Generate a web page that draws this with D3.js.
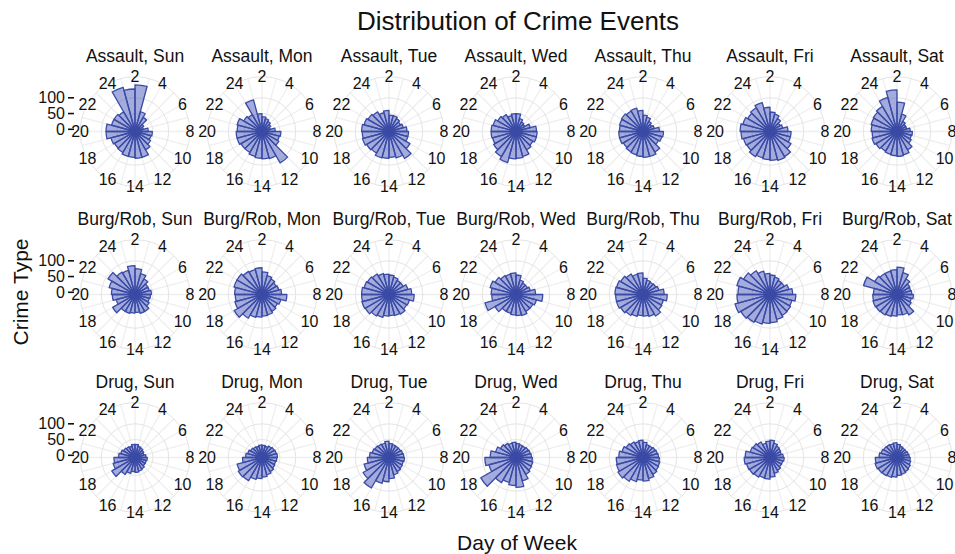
<!DOCTYPE html>
<html>
<head>
<meta charset="utf-8">
<script src="https://cdn.jsdelivr.net/npm/d3@7"></script>
<style>
  body { margin: 0; background: #fff; }
  svg { display: block; }
  text { font-family: "Liberation Sans", Arial, Helvetica, sans-serif; fill: #111; }
</style>
</head>
<body>
<svg id="chart" width="955" height="554"></svg>
<script>
// Crime counts by hour bin (0..23), one row of 24 per day of week.
const days = ["Sun", "Mon", "Tue", "Wed", "Thu", "Fri", "Sat"];
const crimeTypes = ["Assault", "Burg/Rob", "Drug"];
const hours = [0, 1, 2, 3, 4, 5, 6, 7, 8, 9, 10, 11, 12, 13, 14, 15, 16, 17, 18, 19, 20, 21, 22, 23];
const hourTicks = [2, 4, 6, 8, 10, 12, 14, 16, 18, 20, 22, 24];
const countTicks = [0, 50, 100];

const assault = [
  [138, 128, 141, 58, 45, 25, 20, 35, 48, 45, 50, 60, 78, 78, 75, 75, 70, 68, 72, 85, 85, 70, 70, 65],
  [97, 50, 40, 35, 30, 25, 20, 35, 53, 50, 55, 108, 82, 80, 78, 75, 70, 70, 75, 75, 72, 75, 60, 55],
  [55, 60, 45, 45, 40, 35, 40, 50, 55, 55, 70, 92, 80, 75, 78, 80, 72, 75, 80, 78, 80, 75, 70, 65],
  [45, 50, 50, 35, 28, 25, 40, 58, 60, 60, 55, 60, 75, 78, 80, 95, 85, 75, 70, 72, 72, 68, 60, 55],
  [70, 60, 45, 40, 30, 25, 30, 45, 58, 55, 50, 68, 75, 75, 72, 70, 68, 65, 70, 70, 68, 70, 72, 68],
  [88, 70, 55, 50, 40, 30, 35, 50, 60, 60, 70, 85, 88, 85, 82, 80, 85, 78, 80, 85, 88, 82, 75, 80],
  [105, 125, 86, 50, 30, 25, 25, 35, 42, 40, 45, 60, 70, 72, 70, 68, 65, 70, 75, 72, 75, 78, 80, 85]
];
const burgRob = [
  [72, 85, 75, 62, 50, 40, 40, 45, 42, 40, 45, 55, 55, 50, 52, 55, 55, 75, 55, 65, 68, 78, 92, 75],
  [75, 78, 65, 55, 50, 45, 48, 55, 72, 55, 50, 55, 60, 62, 65, 68, 80, 95, 82, 78, 80, 85, 85, 78],
  [62, 58, 55, 50, 45, 45, 55, 65, 73, 60, 58, 65, 62, 60, 62, 68, 72, 80, 82, 80, 80, 75, 72, 68],
  [60, 62, 55, 40, 35, 35, 40, 55, 78, 60, 55, 55, 62, 60, 58, 55, 55, 70, 95, 70, 72, 78, 70, 62],
  [60, 62, 45, 40, 38, 40, 45, 60, 70, 60, 62, 72, 65, 62, 60, 65, 70, 75, 80, 80, 82, 80, 75, 68],
  [70, 60, 55, 50, 45, 45, 55, 65, 75, 65, 68, 70, 75, 82, 85, 90, 95, 100, 108, 98, 95, 102, 90, 80],
  [70, 72, 80, 65, 50, 40, 38, 40, 45, 40, 45, 68, 60, 58, 62, 65, 68, 70, 72, 70, 68, 103, 75, 70]
];
const drug = [
  [30, 35, 35, 30, 28, 25, 22, 28, 32, 30, 30, 35, 38, 40, 38, 45, 55, 78, 65, 60, 45, 40, 35, 32],
  [30, 33, 32, 30, 35, 38, 40, 42, 40, 38, 40, 45, 50, 55, 60, 65, 78, 80, 75, 55, 45, 40, 35, 32],
  [40, 45, 38, 35, 35, 35, 38, 40, 42, 40, 42, 45, 50, 60, 70, 78, 105, 88, 75, 62, 55, 48, 45, 42],
  [40, 42, 38, 35, 35, 38, 40, 42, 45, 48, 50, 55, 70, 88, 82, 75, 85, 122, 82, 92, 75, 60, 50, 45],
  [45, 48, 42, 35, 35, 38, 40, 42, 45, 48, 50, 55, 62, 68, 65, 72, 80, 85, 80, 78, 70, 62, 55, 50],
  [40, 45, 48, 40, 35, 32, 30, 35, 38, 35, 35, 40, 45, 55, 62, 60, 65, 68, 70, 75, 72, 58, 55, 50],
  [38, 40, 35, 30, 28, 28, 30, 32, 35, 38, 42, 45, 48, 50, 55, 58, 60, 62, 65, 62, 50, 45, 42, 40]
];
const seriesByType = { "Assault": assault, "Burg/Rob": burgRob, "Drug": drug };

const svg = d3.select("#chart");

// facet grid: one square polar panel per (crime type, day)
const panelSize = 122;
const col = d3.scaleBand().domain(days).range([71.5, 960.5]);
const row = d3.scaleBand().domain(crimeTypes).range([50, 539]);

// polar scales: hour -> angle (hour 2 at twelve o'clock), count -> radius
const theta = d3.scaleLinear().domain([2, 26]).range([0, 2 * Math.PI]);
const r = d3.scaleLinear().domain([-7, 148]).range([0, 0.4 * panelSize]);
const rOuter = 0.45 * panelSize;

const arc = d3.arc()
  .innerRadius(0)
  .outerRadius(d => r(d.value))
  .startAngle(d => theta(d.hour))
  .endAngle(d => theta(d.hour + 1));

const gridHours = d3.range(2, 26);

crimeTypes.forEach(type => {
  days.forEach((day, di) => {
    const cx = col(day) + col.bandwidth() / 2;
    const cy = row(type) + row.bandwidth() / 2;
    const g = svg.append("g").attr("transform", `translate(${cx},${cy})`);

    // spokes
    g.selectAll("line.spoke").data(gridHours).join("line")
      .attr("class", "spoke")
      .attr("x1", 0).attr("y1", 0)
      .attr("x2", h => Math.sin(theta(h)) * rOuter)
      .attr("y2", h => -Math.cos(theta(h)) * rOuter)
      .attr("stroke", "#efefef").attr("stroke-width", 1.3);

    // radial grid circles
    g.selectAll("circle.ring").data(countTicks.map(v => r(v)).concat([rOuter])).join("circle")
      .attr("class", "ring")
      .attr("r", d => d)
      .attr("fill", "none")
      .attr("stroke", "#e4e4e4").attr("stroke-width", 1);

    // bars
    const vals = seriesByType[type][di];
    g.selectAll("path.bar").data(hours.map((h, i) => ({ hour: h, value: vals[i] }))).join("path")
      .attr("class", "bar")
      .attr("d", arc)
      .attr("fill", "rgba(63,81,181,0.48)")
      .attr("stroke", "#3b4ba5").attr("stroke-width", 1.3)
      .attr("stroke-linejoin", "round");

    // hour labels around the rim
    g.selectAll("text.hour").data(hourTicks).join("text")
      .attr("class", "hour")
      .attr("x", h => Math.sin(theta(h)) * rOuter)
      .attr("y", h => -Math.cos(theta(h)) * rOuter)
      .attr("text-anchor", "middle")
      .attr("dominant-baseline", "central")
      .attr("font-size", 16)
      .text(h => h);

    // strip label
    svg.append("text")
      .attr("x", cx).attr("y", cy - 75.5)
      .attr("text-anchor", "middle")
      .attr("dominant-baseline", "central")
      .attr("font-size", 17.5)
      .text(`${type}, ${day}`);

    // radial count axis on the first column
    if (di === 0) {
      const left = -panelSize / 2;
      g.selectAll("line.rtick").data(countTicks).join("line")
        .attr("class", "rtick")
        .attr("x1", left - 6).attr("x2", left)
        .attr("y1", v => -r(v)).attr("y2", v => -r(v))
        .attr("stroke", "#111").attr("stroke-width", 1.6);
      g.selectAll("text.rlab").data(countTicks).join("text")
        .attr("class", "rlab")
        .attr("x", left - 9)
        .attr("y", v => -r(v))
        .attr("text-anchor", "end")
        .attr("dominant-baseline", "central")
        .attr("font-size", 16)
        .text(v => v);
    }
  });
});

// titles
svg.append("text")
  .attr("x", 518).attr("y", 21)
  .attr("text-anchor", "middle").attr("dominant-baseline", "central")
  .attr("font-size", 26)
  .text("Distribution of Crime Events");

svg.append("text")
  .attr("transform", "translate(20,292) rotate(-90)")
  .attr("text-anchor", "middle").attr("dominant-baseline", "central")
  .attr("font-size", 21)
  .text("Crime Type");

svg.append("text")
  .attr("x", 517).attr("y", 542)
  .attr("text-anchor", "middle").attr("dominant-baseline", "central")
  .attr("font-size", 21)
  .text("Day of Week");
</script>
</body>
</html>
